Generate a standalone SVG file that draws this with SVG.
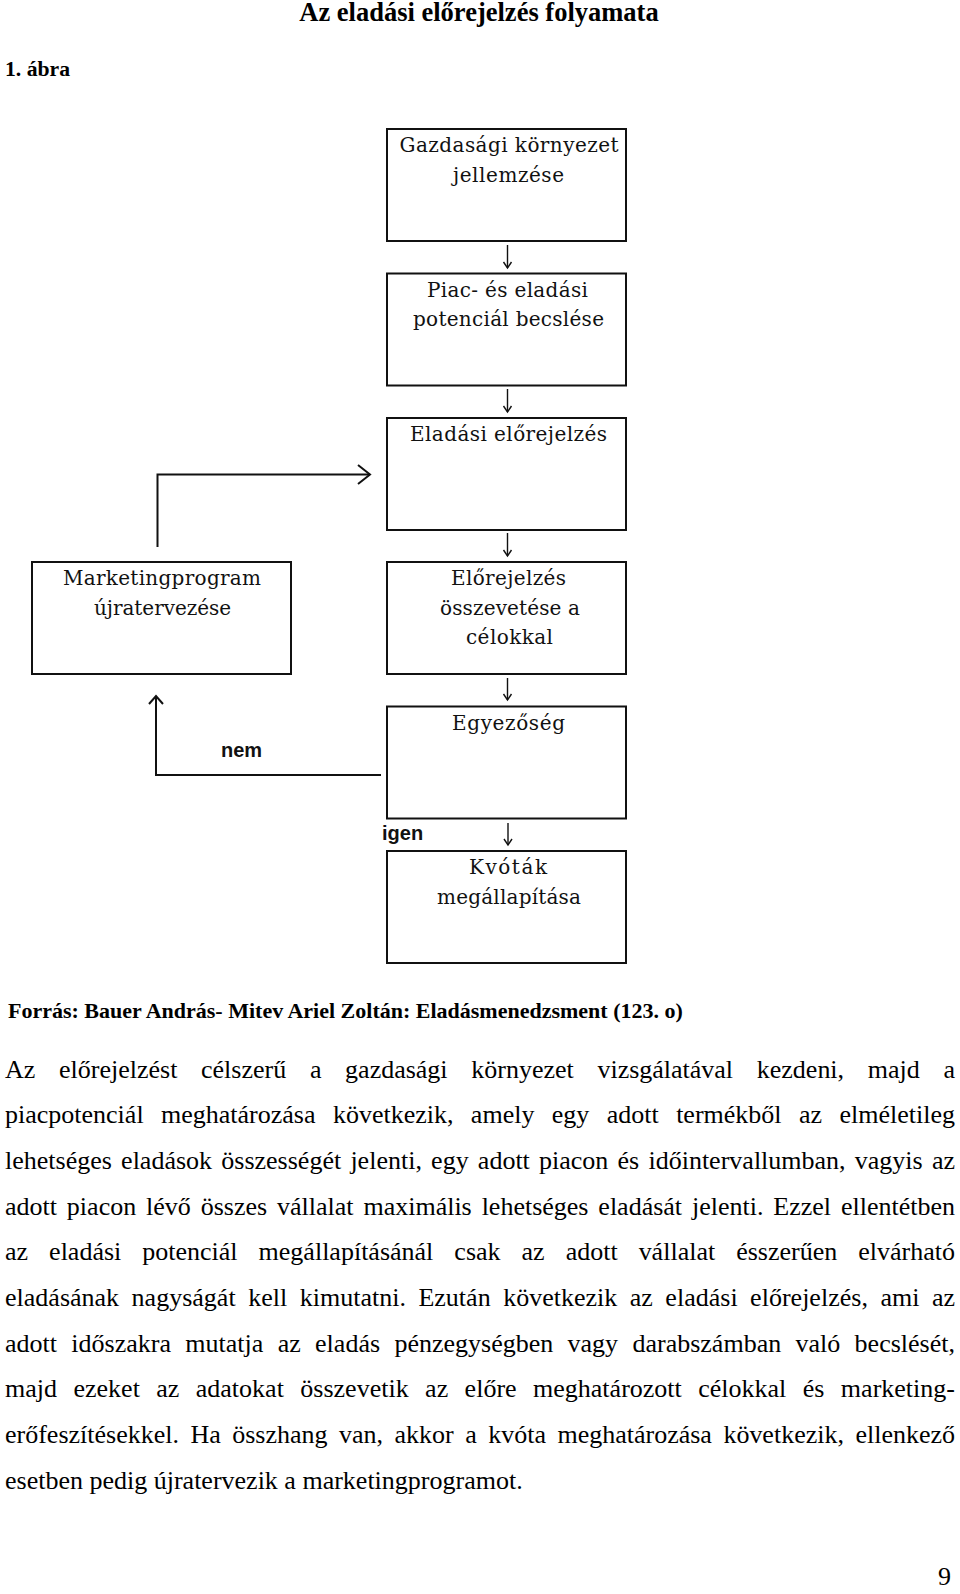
<svg xmlns="http://www.w3.org/2000/svg" width="960" height="1594" viewBox="0 0 960 1594">
<style>
.bg{fill:#fff}
.box{fill:#fff;stroke:#111;stroke-width:2}
.lbl{font-family:"DejaVu Serif","Liberation Serif",serif;font-size:20px;text-anchor:middle;fill:#111}
.ln{fill:none;stroke:#111;stroke-width:2}
.ar{fill:none;stroke:#111;stroke-width:1.4}
.yn{font-family:"Liberation Sans",Arial,sans-serif;font-weight:bold;font-size:20px;fill:#111}
.hd{font-family:"Liberation Serif","Times New Roman",serif;font-weight:bold;fill:#000}
.body{font-family:"Liberation Serif","Times New Roman",serif;font-size:26px;fill:#000}
</style>
<rect class="bg" x="0" y="0" width="960" height="1594"/>
<text class="hd" x="479" y="21" font-size="26.5" text-anchor="middle">Az eladási előrejelzés folyamata</text>
<text class="hd" x="5" y="76" font-size="21.7">1. ábra</text>

<g id="connectors">
  <line class="ar" x1="507.5" y1="245" x2="507.5" y2="268"/><polyline class="ar" points="503.5,262 507.5,268 511.5,262"/>
  <line class="ar" x1="507.5" y1="389" x2="507.5" y2="412"/><polyline class="ar" points="503.5,406 507.5,412 511.5,406"/>
  <line class="ar" x1="507.5" y1="533" x2="507.5" y2="556"/><polyline class="ar" points="503.5,550 507.5,556 511.5,550"/>
  <line class="ar" x1="507.5" y1="678" x2="507.5" y2="700"/><polyline class="ar" points="503.5,694 507.5,700 511.5,694"/>
  <line class="ar" x1="508" y1="823" x2="508" y2="845"/><polyline class="ar" points="504,839 508,845 512,839"/>
  <polyline class="ln" points="157.5,547 157.5,474.5 370,474.5"/>
  <polyline class="ln" points="358,465 370,474.5 358,484"/>
  <polyline class="ln" points="381,775 156,775 156,696"/>
  <polyline class="ln" points="149,704 156,696 163,704"/>
</g>
<text class="yn" x="221" y="757">nem</text>
<text class="yn" x="382" y="840">igen</text>

<g id="n1"><rect class="box" x="387" y="129" width="239" height="112"/>
<text class="lbl" x="509" y="152" textLength="219" lengthAdjust="spacing">Gazdasági környezet</text>
<text class="lbl" x="508.5" y="181.5" textLength="111" lengthAdjust="spacing">jellemzése</text></g>

<g id="n2"><rect class="box" x="387" y="273.5" width="239" height="112"/>
<text class="lbl" x="507.5" y="296.5" textLength="161" lengthAdjust="spacing">Piac- és eladási</text>
<text class="lbl" x="508.5" y="326" textLength="191" lengthAdjust="spacing">potenciál becslése</text></g>

<g id="n3"><rect class="box" x="387" y="418" width="239" height="112"/>
<text class="lbl" x="508.5" y="441" textLength="197" lengthAdjust="spacing">Eladási előrejelzés</text></g>

<g id="n4"><rect class="box" x="387" y="562" width="239" height="112"/>
<text class="lbl" x="508.5" y="585" textLength="115" lengthAdjust="spacing">Előrejelzés</text>
<text class="lbl" x="510" y="614.5" textLength="140" lengthAdjust="spacing">összevetése a</text>
<text class="lbl" x="509.5" y="644" textLength="87" lengthAdjust="spacing">célokkal</text></g>

<g id="n5"><rect class="box" x="387" y="706.5" width="239" height="112"/>
<text class="lbl" x="508.5" y="729.5" textLength="113" lengthAdjust="spacing">Egyezőség</text></g>

<g id="n6"><rect class="box" x="387" y="851" width="239" height="112"/>
<text class="lbl" x="508" y="874" textLength="78" lengthAdjust="spacing">Kvóták</text>
<text class="lbl" x="509" y="903.5" textLength="144" lengthAdjust="spacing">megállapítása</text></g>

<g id="n7"><rect class="box" x="32" y="562" width="259" height="112"/>
<text class="lbl" x="162" y="585" textLength="198" lengthAdjust="spacing">Marketingprogram</text>
<text class="lbl" x="162.5" y="614.5" textLength="137" lengthAdjust="spacing">újratervezése</text></g>

<text class="hd" x="8" y="1018" font-size="22">Forrás: Bauer András- Mitev Ariel Zoltán: Eladásmenedzsment (123. o)</text>

<g class="body">
<text x="5" y="1077.5" word-spacing="17.2" textLength="950" lengthAdjust="spacing">Az előrejelzést célszerű a gazdasági környezet vizsgálatával kezdeni, majd a</text>
<text x="5" y="1123.2" word-spacing="10.9" textLength="950" lengthAdjust="spacing">piacpotenciál meghatározása következik, amely egy adott termékből az elméletileg</text>
<text x="5" y="1168.9" word-spacing="2.7" textLength="950" lengthAdjust="spacing">lehetséges eladások összességét jelenti, egy adott piacon és időintervallumban, vagyis az</text>
<text x="5" y="1214.6" word-spacing="3.4" textLength="950" lengthAdjust="spacing">adott piacon lévő összes vállalat maximális lehetséges eladását jelenti. Ezzel ellentétben</text>
<text x="5" y="1260.3" word-spacing="14.5" textLength="950" lengthAdjust="spacing">az eladási potenciál megállapításánál csak az adott vállalat ésszerűen elvárható</text>
<text x="5" y="1306" word-spacing="6" textLength="950" lengthAdjust="spacing">eladásának nagyságát kell kimutatni. Ezután következik az eladási előrejelzés, ami az</text>
<text x="5" y="1351.7" word-spacing="7.8" textLength="950" lengthAdjust="spacing">adott időszakra mutatja az eladás pénzegységben vagy darabszámban való becslését,</text>
<text x="5" y="1397.4" word-spacing="9.9" textLength="950" lengthAdjust="spacing">majd ezeket az adatokat összevetik az előre meghatározott célokkal és marketing-</text>
<text x="5" y="1443.1" word-spacing="5" textLength="950" lengthAdjust="spacing">erőfeszítésekkel. Ha összhang van, akkor a kvóta meghatározása következik, ellenkező</text>
<text x="5" y="1488.8">esetben pedig újratervezik a marketingprogramot.</text>
</g>
<text class="body" x="938" y="1585" font-size="24">9</text>
</svg>
